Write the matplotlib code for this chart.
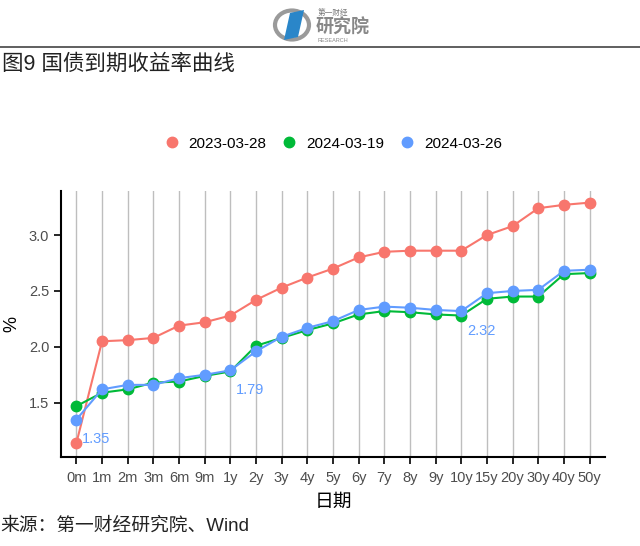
import matplotlib
matplotlib.use("Agg")
import matplotlib.pyplot as plt
from matplotlib.patches import Circle, Polygon

plt.rcParams['font.family'] = ['Liberation Sans', 'Noto Sans CJK SC', 'DejaVu Sans']

terms = ["0m", "1m", "2m", "3m", "6m", "9m", "1y", "2y", "3y", "4y", "5y",
         "6y", "7y", "8y", "9y", "10y", "15y", "20y", "30y", "40y", "50y"]

y_2023_03_28 = [1.14, 2.05, 2.06, 2.08, 2.19, 2.22, 2.28, 2.42, 2.53, 2.62, 2.70,
                2.80, 2.85, 2.86, 2.86, 2.86, 3.00, 3.08, 3.24, 3.27, 3.29]
y_2024_03_19 = [1.47, 1.59, 1.62, 1.68, 1.69, 1.74, 1.78, 2.01, 2.08, 2.15, 2.21,
                2.29, 2.32, 2.31, 2.29, 2.28, 2.43, 2.45, 2.45, 2.65, 2.66]
y_2024_03_26 = [1.35, 1.62, 1.66, 1.66, 1.72, 1.75, 1.79, 1.96, 2.09, 2.17, 2.23,
                2.33, 2.36, 2.35, 2.33, 2.32, 2.48, 2.50, 2.51, 2.68, 2.69]

series = [("2023-03-28", y_2023_03_28, "#F8766D"),
          ("2024-03-19", y_2024_03_19, "#00BA38"),
          ("2024-03-26", y_2024_03_26, "#619CFF")]

# points labelled on the blue curve
label_idx = [0, 6, 15]

fig = plt.figure(figsize=(6.4, 5.46), dpi=100)
ax = fig.add_axes([0.0953, 0.163, 0.85, 0.487])

x = list(range(len(terms)))
for name, vals, color in series:
    ax.plot(x, vals, color=color, lw=1.5, marker="o", markersize=7.5,
            label=name, zorder=3)

for i in label_idx:
    ax.annotate(f"{y_2024_03_26[i]:.2f}", (x[i], y_2024_03_26[i]),
                xytext=(4, -14), textcoords="offset points",
                ha="left", va="center", color="#619CFF", fontsize=10.5)

ax.set_xlim(-0.6, 20.6)
ax.set_ylim(1.015, 3.393)
ax.set_xticks(x)
ax.set_xticklabels(terms, fontsize=10.5, color="#4D4D4D")
ax.set_yticks([1.5, 2.0, 2.5, 3.0])
ax.set_yticklabels(["1.5", "2.0", "2.5", "3.0"], fontsize=10.5, color="#4D4D4D")
ax.grid(axis="x", color="#BEBEBE", lw=1.0)
ax.set_axisbelow(True)
for s in ["top", "right"]:
    ax.spines[s].set_visible(False)
for s in ["left", "bottom"]:
    ax.spines[s].set_linewidth(1.5)
ax.tick_params(length=5, width=1.2)
ax.tick_params(axis="x", pad=5)

ax.set_xlabel("日期", fontsize=13.5, labelpad=4, family=['Noto Sans CJK SC'])
ax.set_ylabel("%", fontsize=13, labelpad=6)

leg = ax.legend(loc="lower center", bbox_to_anchor=(0.5, 1.1), ncol=3,
                frameon=False, fontsize=11, handlelength=1.0,
                handletextpad=0.6, columnspacing=1.0)
for h in leg.get_lines():
    h.set_linestyle("none")

# header
fig.add_artist(plt.Line2D([0, 1], [1 - 47 / 546, 1 - 47 / 546], color="#444444", lw=1.2))
fig.text(0.003, 1 - 64 / 546, "图9 国债到期收益率曲线", fontsize=15.5, va="center",
         color="#222222")
fig.text(0.0, 1 - 526 / 546, "来源：第一财经研究院、Wind", fontsize=13.5, va="center",
         color="#222222")

# logo
ring = Circle((292 / 640, 1 - 25 / 546), 17 / 640, transform=fig.transFigure,
              fill=False, ec="#9A9A9A", lw=3)
fig.add_artist(ring)
book = Polygon([(284 / 640, 1 - 40 / 546), (290 / 640, 1 - 13 / 546),
                (304 / 640, 1 - 10 / 546), (298 / 640, 1 - 37 / 546)],
               closed=True, transform=fig.transFigure, fc="#2A86C9", ec="none")
fig.add_artist(book)
fig.text(318 / 640, 1 - 13 / 546, "第一财经", fontsize=5.5, color="#777777", va="center")
fig.text(316 / 640, 1 - 28 / 546, "研究院", fontsize=13, color="#888888", va="center",
         weight="bold")
fig.text(318 / 640, 1 - 41 / 546, "RESEARCH", fontsize=4, color="#888888", va="center")

fig.savefig("out.png", dpi=100)
